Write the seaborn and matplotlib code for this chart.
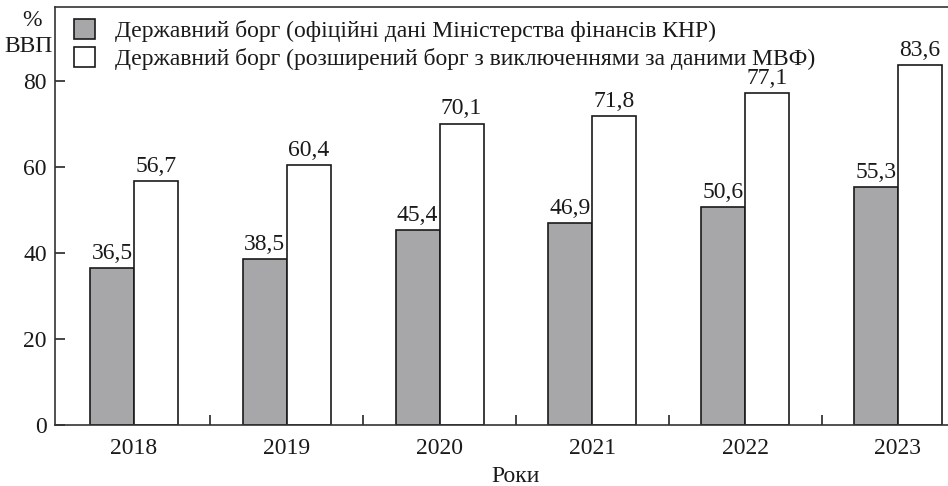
import matplotlib
matplotlib.use("Agg")
import matplotlib.pyplot as plt
import seaborn as sns
import pandas as pd

years = ["2018", "2019", "2020", "2021", "2022", "2023"]
official_debt = [36.5, 38.5, 45.4, 46.9, 50.6, 55.3]
imf_debt = [56.7, 60.4, 70.1, 71.8, 77.1, 83.6]
series_names = [
    "Державний борг (офіційні дані Міністерства фінансів КНР)",
    "Державний борг (розширений борг з виключеннями за даними МВФ)",
]
y_ticks = [0, 20, 40, 60, 80]

sns.set_theme(style="ticks")
plt.rcParams["font.family"] = ["Liberation Serif", "DejaVu Serif"]

df = pd.DataFrame({
    "year": years * 2,
    "value": official_debt + imf_debt,
    "series": [series_names[0]] * len(years) + [series_names[1]] * len(years),
})

W, H = 948, 486
fig = plt.figure(figsize=(W / 100, H / 100), dpi=100)
ax = fig.add_axes([55 / W, 1 - 425 / H, 894 / W, 418 / H])

sns.barplot(
    data=df, x="year", y="value", hue="series", order=years,
    hue_order=series_names, palette=["#a6a7aa", "#ffffff"],
    width=0.576, gap=0, edgecolor="#1a1a1a", linewidth=1.2,
    errorbar=None, ax=ax, legend=True,
)

fs = 17
for container, vals in zip(ax.containers, [official_debt, imf_debt]):
    ax.bar_label(container, labels=[f"{v:.1f}".replace(".", ",") for v in vals],
                 padding=3, fontsize=fs, color="#1a1a1a")

ax.set_xlim(-0.517, 5.334)
ax.set_ylim(0, 97.2)
ax.set_yticks(y_ticks)
ax.set_yticklabels([str(t) for t in y_ticks], fontsize=fs, color="#1a1a1a")
ax.tick_params(axis="y", direction="in", length=7, width=1.2, pad=6)
ax.set_xticks(range(len(years)))
ax.set_xticklabels(years, fontsize=fs, color="#1a1a1a")
ax.tick_params(axis="x", which="major", length=0, pad=9)
ax.set_xticks([i + 0.5 for i in range(len(years) - 1)], minor=True)
ax.tick_params(axis="x", which="minor", direction="in", length=7, width=1.2)
ax.set_xlabel("")
ax.set_ylabel("")
for s in ax.spines.values():
    s.set_linewidth(1.2)
    s.set_color("#333333")

ax.text(2.5, -0.124, "Роки", transform=ax.get_xaxis_transform(),
        ha="center", va="center", fontsize=fs, color="#1a1a1a")
fig.text(32 / W, 1 - 21 / H, "%", ha="center", va="center", fontsize=fs, color="#1a1a1a")
fig.text(53 / W, 1 - 46 / H, "ВВП", ha="right", va="center", fontsize=fs, color="#1a1a1a")

leg = ax.legend(loc="upper left", bbox_to_anchor=(0.0055, 1.0046), frameon=False,
                fontsize=fs, handlelength=0.9, handleheight=0.9,
                handletextpad=0.85, labelspacing=0.2, borderaxespad=0.2)
for t in leg.get_texts():
    t.set_color("#1a1a1a")

fig.savefig("out.png", dpi=100)
